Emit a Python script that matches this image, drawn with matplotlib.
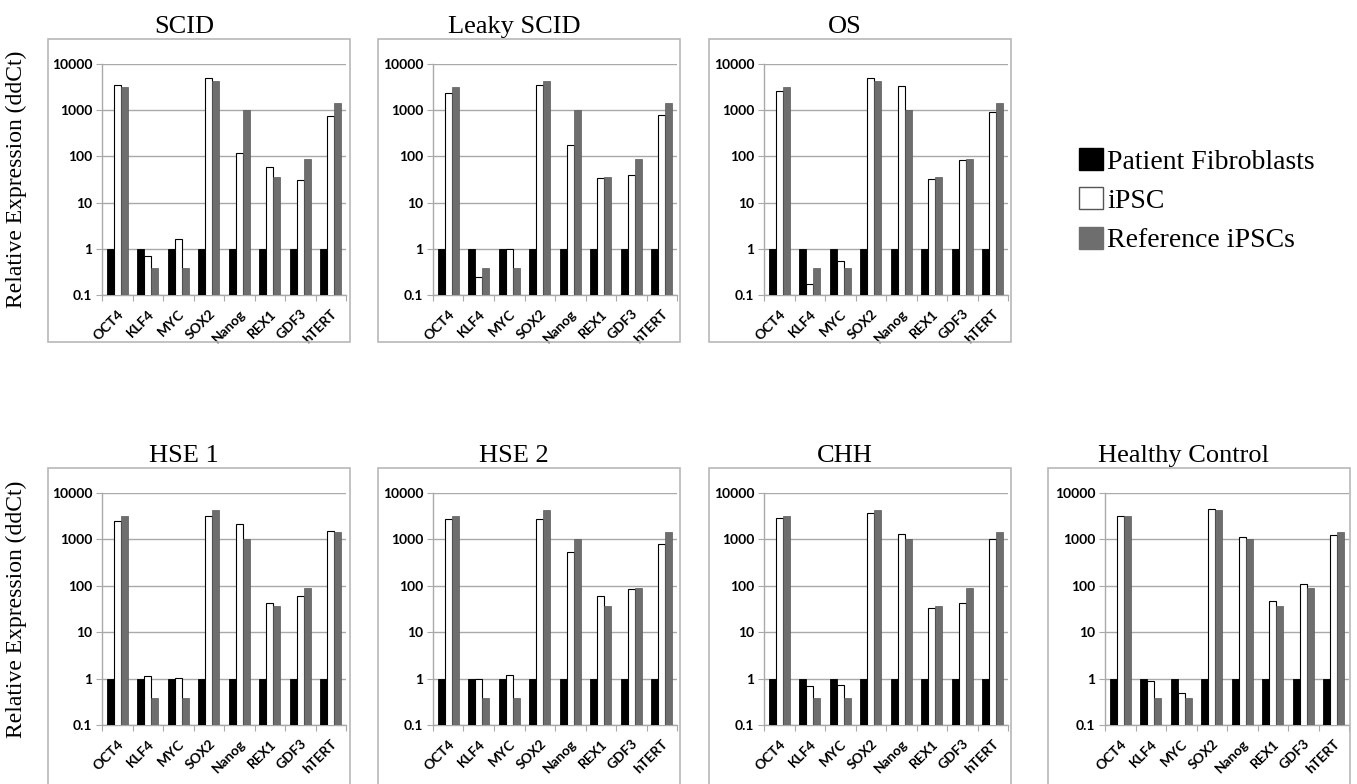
import matplotlib
matplotlib.use("Agg")
import matplotlib.pyplot as plt
import matplotlib.transforms as mtransforms
import numpy as np
from matplotlib.patches import Rectangle, Patch

# gene names on the x axis
genes = ["OCT4", "KLF4", "MYC", "SOX2", "Nanog", "REX1", "GDF3", "hTERT"]

# patient fibroblasts are the calibrator (always 1)
fibroblasts = [1, 1, 1, 1, 1, 1, 1, 1]

# reference iPSCs (same in every panel)
reference = [3150, 0.38, 0.38, 4200, 1000, 36, 88, 1450]

# iPSC values per patient line
scid = [3500, 0.69, 1.6, 4900, 120, 58, 31, 740]
leaky_scid = [2400, 0.25, 1.0, 3580, 180, 34, 40, 790]
os_ = [2600, 0.17, 0.54, 4900, 3300, 32, 85, 900]
hse1 = [2500, 1.13, 1.04, 3270, 2130, 43, 59, 1510]
hse2 = [2780, 1.0, 1.21, 2780, 540, 59, 84, 800]
chh = [2870, 0.69, 0.73, 3740, 1280, 33, 43, 1000]
healthy = [3270, 0.89, 0.50, 4410, 1120, 47, 110, 1250]

titles = ["SCID", "Leaky SCID", "OS", "HSE 1", "HSE 2", "CHH", "Healthy Control"]
ipsc = [scid, leaky_scid, os_, hse1, hse2, chh, healthy]

W, H = 1357, 784
fig = plt.figure(figsize=(W / 100, H / 100), dpi=100)

serif = "Liberation Serif"
sans = "Lato"
grid_c = "#a9a9a9"
box_c = "#b8b8b8"
gray_bar = "#6e6e6e"

# panel positions in pixels
axis_left = [102, 433, 764, 102, 433, 764, 1105]
box_left = [48, 378, 709, 48, 378, 709, 1048]
rows = [0, 0, 0, 1, 1, 1, 1]
plot_top = [64, 493]      # y pixel of 10000
plot_bot = [295, 725]     # y pixel of 0.1
box_top = [39, 468]
box_bot = [342, 792]
title_base = [33, 462]
plot_w = 244
box_w = 302


def fx(px):
    return px / W


def fy(py):
    return 1 - py / H


x = np.arange(len(genes))
bw = 0.225

for i in range(7):
    r = rows[i]
    # light frame around each panel
    fig.patches.append(Rectangle((fx(box_left[i]), fy(box_bot[r])), box_w / W,
                                 (box_bot[r] - box_top[r]) / H, transform=fig.transFigure,
                                 fill=False, edgecolor=box_c, linewidth=1.2))
    fig.text(fx(box_left[i] + box_w * 0.45), fy(title_base[r]), titles[i], family=serif,
             fontsize=19, ha="center", va="baseline")

    ax = fig.add_axes([fx(axis_left[i]), fy(plot_bot[r]), plot_w / W,
                       (plot_bot[r] - plot_top[r]) / H])
    ax.set_yscale("log")
    ax.bar(x - bw, fibroblasts, bw, color="black", edgecolor="black", linewidth=0.6, zorder=3)
    ax.bar(x, ipsc[i], bw, color="white", edgecolor="black", linewidth=0.8, zorder=3)
    ax.bar(x + bw, reference, bw, color=gray_bar, edgecolor="#5a5a5a", linewidth=0.5, zorder=3)
    ax.set_ylim(0.1, 10000)
    ax.set_xlim(-0.5, len(genes) - 0.5)
    ax.set_yticks([0.1, 1, 10, 100, 1000, 10000])
    ax.set_yticklabels(["0.1", "1", "10", "100", "1000", "10000"], family=sans,
                       fontweight="bold", fontsize=10)
    ax.minorticks_off()
    ax.yaxis.grid(True, color=grid_c, linewidth=1, zorder=0)
    ax.set_xticks(np.arange(len(genes) + 1) - 0.5)
    ax.set_xticklabels([])
    ax.set_xticks(x, minor=True)
    ax.set_xticklabels(genes, minor=True, rotation=45, ha="right", va="top",
                       rotation_mode="anchor", family=sans, fontweight="bold", fontsize=10)
    shift = mtransforms.ScaledTranslation(6 / 72, 0, fig.dpi_scale_trans)
    for lab in ax.get_xticklabels(minor=True):
        lab.set_transform(lab.get_transform() + shift)
    ax.tick_params(axis="x", which="minor", length=0, pad=9)
    ax.tick_params(axis="x", which="major", length=4, color=grid_c)
    ax.tick_params(axis="y", length=4, color=grid_c, pad=3)
    for s in ["top", "right"]:
        ax.spines[s].set_visible(False)
    for s in ["left", "bottom"]:
        ax.spines[s].set_color(grid_c)
        ax.spines[s].set_linewidth(1)
    ax.set_facecolor("none")

# y labels for each row
for r in range(2):
    fig.text(fx(16), fy((plot_top[r] + plot_bot[r]) / 2), "Relative Expression (ddCt)",
             family=serif, fontsize=17, rotation=90, ha="center", va="center")

handles = [Patch(facecolor="black", edgecolor="black"),
           Patch(facecolor="white", edgecolor="#555555"),
           Patch(facecolor=gray_bar, edgecolor=gray_bar)]
fig.legend(handles, ["Patient Fibroblasts", "iPSC", "Reference iPSCs"],
           loc="upper left", bbox_to_anchor=(fx(1068), fy(137)), frameon=False,
           prop={"family": serif, "size": 20}, handlelength=0.85, handleheight=0.85,
           handletextpad=0.15, labelspacing=0.45, borderaxespad=0)

fig.savefig("out.png", dpi=100)
